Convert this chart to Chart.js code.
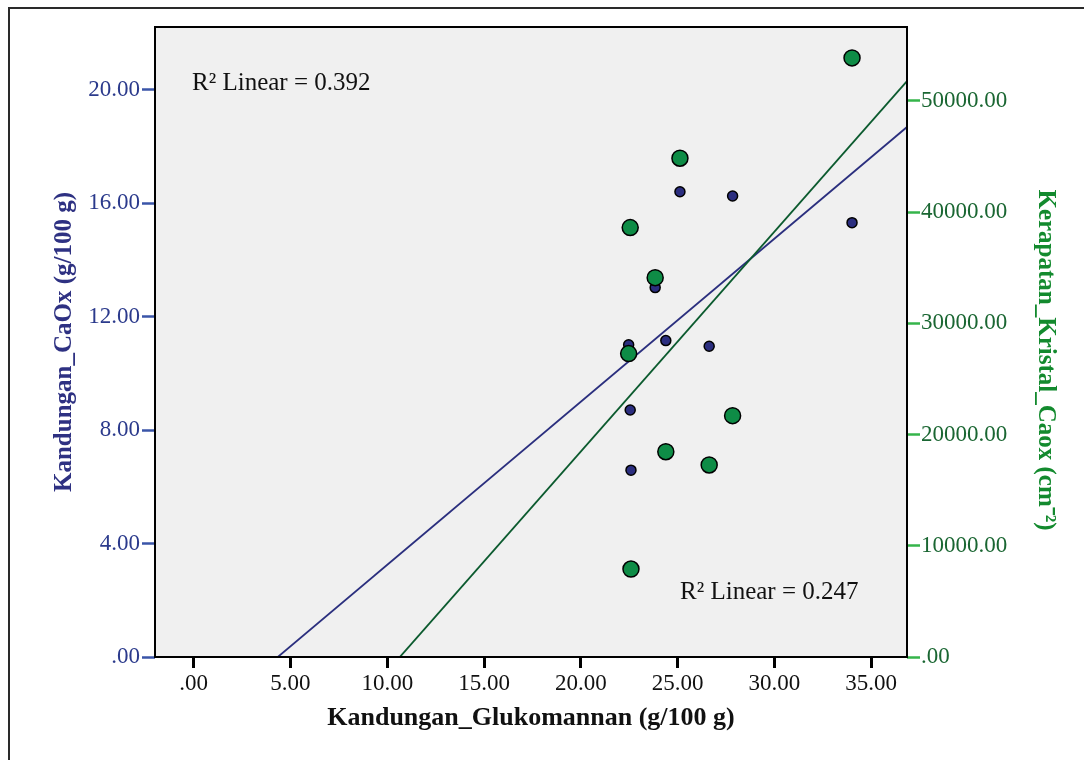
<!DOCTYPE html>
<html><head><meta charset="utf-8">
<script src="https://cdn.jsdelivr.net/npm/chart.js@4.4.1/dist/chart.umd.min.js"></script>
<style>html,body{margin:0;padding:0;background:#fff;}#wrap{width:1084px;height:760px;position:relative;}</style>
</head><body><div id="wrap"><canvas id="c" width="1084" height="760"></canvas></div>
<script>
// ---- data ----
const glukomannan      = [25.12, 27.84, 34.01, 23.84, 22.47, 24.39, 26.63, 22.55, 22.59];
const kandunganCaOx    = [16.41, 16.26, 15.32, 13.03, 11.01, 11.16, 10.96, 8.71, 6.59];
const kerapatanKristal = [44850, 21700, 53870, 34110, 27280, 18460, 17270, 38610, 7910];
const xTicks     = [0, 5, 10, 15, 20, 25, 30, 35];
const leftTicks  = [0, 4, 8, 12, 16, 20];
const rightTicks = [0, 10000, 20000, 30000, 40000, 50000];
const r2Labels   = ['R\u00B2 Linear = 0.392', 'R\u00B2 Linear = 0.247'];
const xTitle  = 'Kandungan_Glukomannan (g/100 g)';
const yTitle  = 'Kandungan_CaOx (g/100 g)';
const y2Title = 'Kerapatan_Kristal_Caox (cm\u207B\u00B2)';

const X_MIN = -2, X_MAX = 36.85, Y_MAX = 22.22, Y2_MAX = 56650;

function linFit(xs, ys) {
  const n = xs.length;
  const mx = xs.reduce((s, v) => s + v, 0) / n;
  const my = ys.reduce((s, v) => s + v, 0) / n;
  let sxy = 0, sxx = 0;
  for (let i = 0; i < n; i++) { sxy += (xs[i] - mx) * (ys[i] - my); sxx += (xs[i] - mx) ** 2; }
  const b = sxy / sxx, a = my - b * mx;
  return [{x: X_MIN, y: a + b * X_MIN}, {x: X_MAX, y: a + b * X_MAX}];
}
const fmt = v => (v === 0 ? '.00' : Number(v).toFixed(2));
const serif = 'Liberation Serif, Times New Roman, serif';

const bgPlugin = {
  id: 'bg',
  beforeDraw(chart) {
    const {ctx, chartArea: a} = chart;
    ctx.save();
    ctx.fillStyle = '#fff';
    ctx.fillRect(0, 0, chart.width, chart.height);
    ctx.strokeStyle = '#2a2a2a';
    ctx.lineWidth = 2;
    ctx.beginPath();
    ctx.moveTo(9, 760); ctx.lineTo(9, 8); ctx.lineTo(1084, 8);
    ctx.stroke();
    ctx.fillStyle = '#F0F0F0';
    ctx.fillRect(a.left, a.top, a.right - a.left, a.bottom - a.top);
    ctx.restore();
  },
  afterDraw(chart) {
    const {ctx, chartArea: a} = chart;
    ctx.save();
    ctx.strokeStyle = '#000';
    ctx.lineWidth = 2;
    ctx.strokeRect(a.left, a.top, a.right - a.left, a.bottom - a.top);
    ctx.fillStyle = '#111';
    ctx.font = '25px ' + serif;
    ctx.textBaseline = 'middle';
    ctx.textAlign = 'left';
    ctx.fillText(r2Labels[0], a.left + 37, a.top + 56);
    ctx.fillText(r2Labels[1], a.left + 525, a.bottom - 65);
    // right axis title (rotated, reads top to bottom)
    ctx.translate(1045, 360);
    ctx.rotate(Math.PI / 2);
    ctx.textAlign = 'center';
    ctx.fillStyle = '#138A2E';
    ctx.font = 'bold 25px ' + serif;
    ctx.fillText(y2Title, 0, 0);
    ctx.restore();
  }
};

new Chart(document.getElementById('c'), {
  type: 'scatter',
  data: {
    datasets: [
      { label: 'Kerapatan', data: glukomannan.map((x, i) => ({x, y: kerapatanKristal[i]})), yAxisID: 'y2',
        backgroundColor: '#0E8C46', borderColor: '#000', borderWidth: 1.5, pointRadius: 8, order: 0 },
      { label: 'CaOx', data: glukomannan.map((x, i) => ({x, y: kandunganCaOx[i]})), yAxisID: 'y',
        backgroundColor: '#2B2E7F', borderColor: '#000', borderWidth: 1.5, pointRadius: 5, order: 1 },
      { label: 'fit2', data: linFit(glukomannan, kerapatanKristal), yAxisID: 'y2', showLine: true,
        pointRadius: 0, borderColor: '#0B5A2E', borderWidth: 1.8, order: 2 },
      { label: 'fit1', data: linFit(glukomannan, kandunganCaOx), yAxisID: 'y', showLine: true,
        pointRadius: 0, borderColor: '#2B2F7E', borderWidth: 1.8, order: 3 }
    ]
  },
  options: {
    responsive: false,
    animation: false,
    layout: { padding: { top: 27, left: 0, right: 0, bottom: 0 } },
    plugins: { legend: { display: false }, tooltip: { enabled: false } },
    scales: {
      x: {
        type: 'linear', position: 'bottom', min: X_MIN, max: X_MAX,
        afterBuildTicks: s => { s.ticks = xTicks.map(v => ({value: v})); },
        afterFit: s => { s.height = 103; },
        grid: { drawOnChartArea: false, drawTicks: true, tickLength: 11, tickColor: '#000', tickWidth: 3 },
        border: { display: false },
        ticks: { color: '#111', font: { family: serif, size: 23 }, padding: 2, maxRotation: 0, autoSkip: false, callback: fmt },
        title: { display: true, text: xTitle, color: '#111', font: { family: serif, size: 26, weight: 'bold' }, padding: { top: 0, bottom: 26 } }
      },
      y: {
        type: 'linear', position: 'left', min: 0, max: Y_MAX,
        afterBuildTicks: s => { s.ticks = leftTicks.map(v => ({value: v})); },
        afterFit: s => { s.width = 155; },
        grid: { drawOnChartArea: false, drawTicks: true, tickLength: 13, tickColor: '#3A55A8', tickWidth: 2.5 },
        border: { display: false },
        ticks: { color: '#2B3A8C', font: { family: serif, size: 23 }, padding: 2, autoSkip: false, callback: fmt },
        title: { display: true, text: yTitle, color: '#2E3182', font: { family: serif, size: 25, weight: 'bold' }, padding: { top: 50, bottom: 0 } }
      },
      y2: {
        type: 'linear', position: 'right', min: 0, max: Y2_MAX,
        afterBuildTicks: s => { s.ticks = rightTicks.map(v => ({value: v})); },
        afterFit: s => { s.width = 177; },
        grid: { drawOnChartArea: false, drawTicks: true, tickLength: 13, tickColor: '#35B44A', tickWidth: 2.5 },
        border: { display: false },
        ticks: { color: '#1A6632', font: { family: serif, size: 23 }, padding: 1, autoSkip: false, callback: fmt },
        title: { display: false }
      }
    }
  },
  plugins: [bgPlugin]
});
</script>
</body></html>
